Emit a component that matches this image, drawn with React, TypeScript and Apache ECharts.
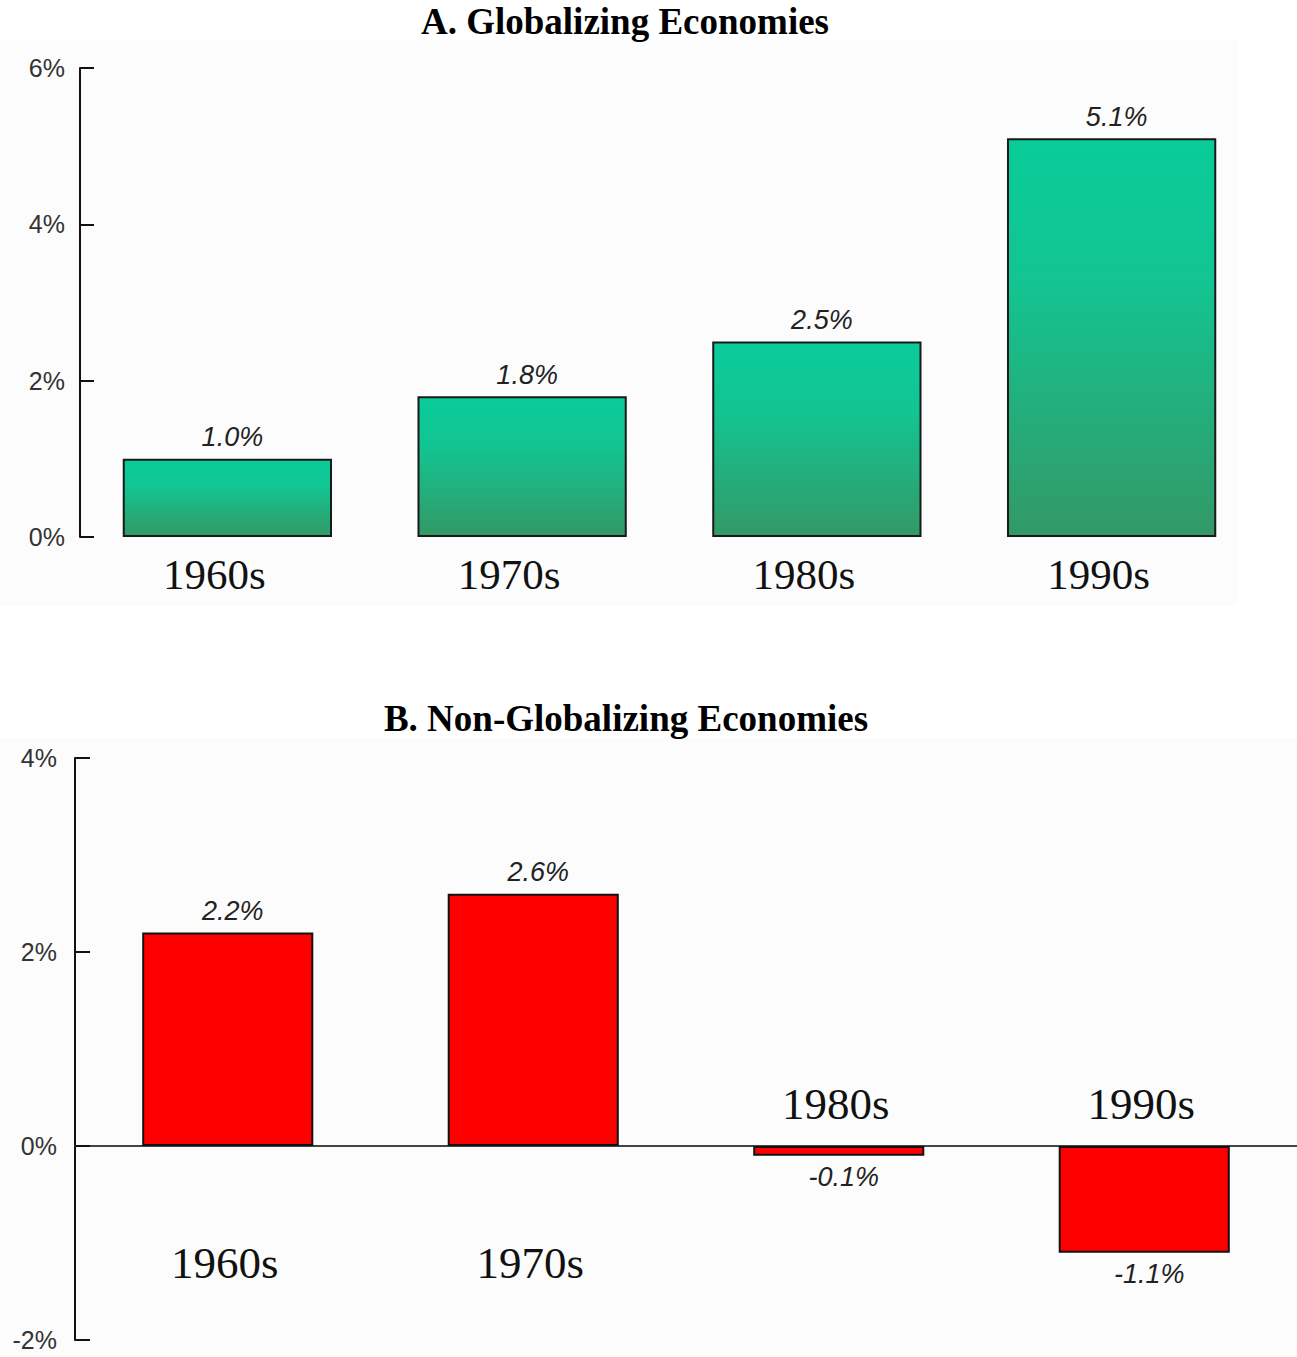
import React, { useEffect, useRef } from "react";
import * as echarts from "echarts";

// Average annual growth in GDP per capita by decade
const decades = ["1960s", "1970s", "1980s", "1990s"];
const globalizingGrowth = [1.0, 1.8, 2.5, 5.1];
const nonGlobalizingGrowth = [2.2, 2.6, -0.1, -1.1];
const panelTitles = ["A. Globalizing Economies", "B. Non-Globalizing Economies"];
const rangeA = [0, 6];
const rangeB = [-2, 4];
const tickStep = 2;

const serif = '"Liberation Serif", "Times New Roman", serif';
const sans = '"Liberation Sans", Arial, sans-serif';

const pct = (v: number) => `${v.toFixed(1)}%`;

const valueLabel = {
  show: true,
  distance: 8,
  offset: [5, 0],
  formatter: (p: any) => pct(p.value),
  fontFamily: sans,
  fontStyle: "italic",
  fontSize: 27,
  color: "#222",
};

const yAxisBase = (gridIndex: number, range: number[], margin: number, tickLen: number) => ({
  gridIndex,
  type: "value",
  min: range[0],
  max: range[1],
  interval: tickStep,
  axisLine: { show: true, onZero: false, lineStyle: { color: "#111", width: 2 } },
  axisTick: { show: true, inside: true, length: tickLen, lineStyle: { color: "#111", width: 2 } },
  splitLine: { show: false },
  axisLabel: {
    formatter: "{value}%",
    fontFamily: sans,
    fontSize: 25,
    color: "#333",
    margin,
  },
});

export default function App() {
  const ref = useRef<HTMLDivElement>(null);

  useEffect(() => {
    document.body.style.margin = "0";
    if (!ref.current) return;
    const chart = echarts.init(ref.current, null, { renderer: "svg" });

    const greenFill = new echarts.graphic.LinearGradient(0, 0, 0, 1, [
      { offset: 0, color: "#09cc99" },
      { offset: 0.35, color: "#12c592" },
      { offset: 1, color: "#339966" },
    ]);

    chart.setOption({
      animation: false,
      backgroundColor: "#ffffff",
      graphic: [
        {
          type: "rect",
          z: -10,
          silent: true,
          shape: { x: 0, y: 40, width: 1237, height: 566 },
          style: { fill: "#fcfcfc" },
        },
        {
          type: "rect",
          z: -10,
          silent: true,
          shape: { x: 0, y: 738, width: 1297, height: 619 },
          style: { fill: "#fcfcfc" },
        },
        {
          type: "text",
          x: 625,
          y: 21,
          style: {
            text: panelTitles[0],
            font: `bold 37px ${serif}`,
            fill: "#000",
            align: "center",
            verticalAlign: "middle",
          },
        },
        {
          type: "text",
          x: 626,
          y: 718,
          style: {
            text: panelTitles[1],
            font: `bold 37px ${serif}`,
            fill: "#000",
            align: "center",
            verticalAlign: "middle",
          },
        },
      ],
      grid: [
        { left: 80, top: 68, width: 1179, height: 469, outerBoundsMode: "none" },
        { left: 75, top: 758, width: 1222, height: 582, outerBoundsMode: "none" },
      ],
      xAxis: [
        {
          gridIndex: 0,
          type: "category",
          data: decades,
          axisLine: { show: false },
          axisTick: { show: false },
          axisLabel: {
            interval: 0,
            fontFamily: serif,
            fontSize: 43,
            color: "#111",
            margin: 16,
            padding: [0, 26, 0, 0],
          },
        },
        {
          // zero line; names of decades with growth sit under it
          gridIndex: 1,
          type: "category",
          position: "bottom",
          data: decades,
          axisLine: { show: true, onZero: true, onZeroAxisIndex: 1, lineStyle: { color: "#444", width: 2 } },
          axisTick: { show: false },
          axisLabel: {
            inside: true,
            interval: 0,
            formatter: (v: string, i: number) => (nonGlobalizingGrowth[i] >= 0 ? v : ""),
            fontFamily: serif,
            fontSize: 45,
            color: "#111",
            margin: 55,
            padding: [0, 6, 0, 0],
          },
        },
        {
          // names of decades with decline sit above the zero line
          gridIndex: 1,
          type: "category",
          position: "top",
          data: decades,
          axisLine: {
            show: true,
            onZero: true,
            onZeroAxisIndex: 1,
            lineStyle: { color: "#444", width: 2, opacity: 0 },
          },
          axisTick: { show: false },
          axisLabel: {
            inside: true,
            interval: 0,
            formatter: (v: string, i: number) => (nonGlobalizingGrowth[i] < 0 ? v : ""),
            fontFamily: serif,
            fontSize: 45,
            color: "#111",
            margin: 323,
            padding: [0, 6, 0, 0],
          },
        },
      ],
      yAxis: [yAxisBase(0, rangeA, 15, 14), yAxisBase(1, rangeB, 18, 15)],
      series: [
        {
          type: "bar",
          xAxisIndex: 0,
          yAxisIndex: 0,
          data: globalizingGrowth,
          barWidth: "71%",
          itemStyle: { color: greenFill, borderColor: "#1a1a1a", borderWidth: 2 },
          label: { ...valueLabel, position: "top" },
        },
        {
          type: "bar",
          xAxisIndex: 1,
          yAxisIndex: 1,
          data: nonGlobalizingGrowth.map((v) => ({
            value: v,
            label: { position: v >= 0 ? "top" : "bottom" },
          })),
          barWidth: "56%",
          itemStyle: { color: "#ff0000", borderColor: "#111", borderWidth: 2 },
          label: { ...valueLabel },
        },
      ],
    });

    return () => chart.dispose();
  }, []);

  return <div ref={ref} style={{ width: 1297, height: 1357 }} />;
}
